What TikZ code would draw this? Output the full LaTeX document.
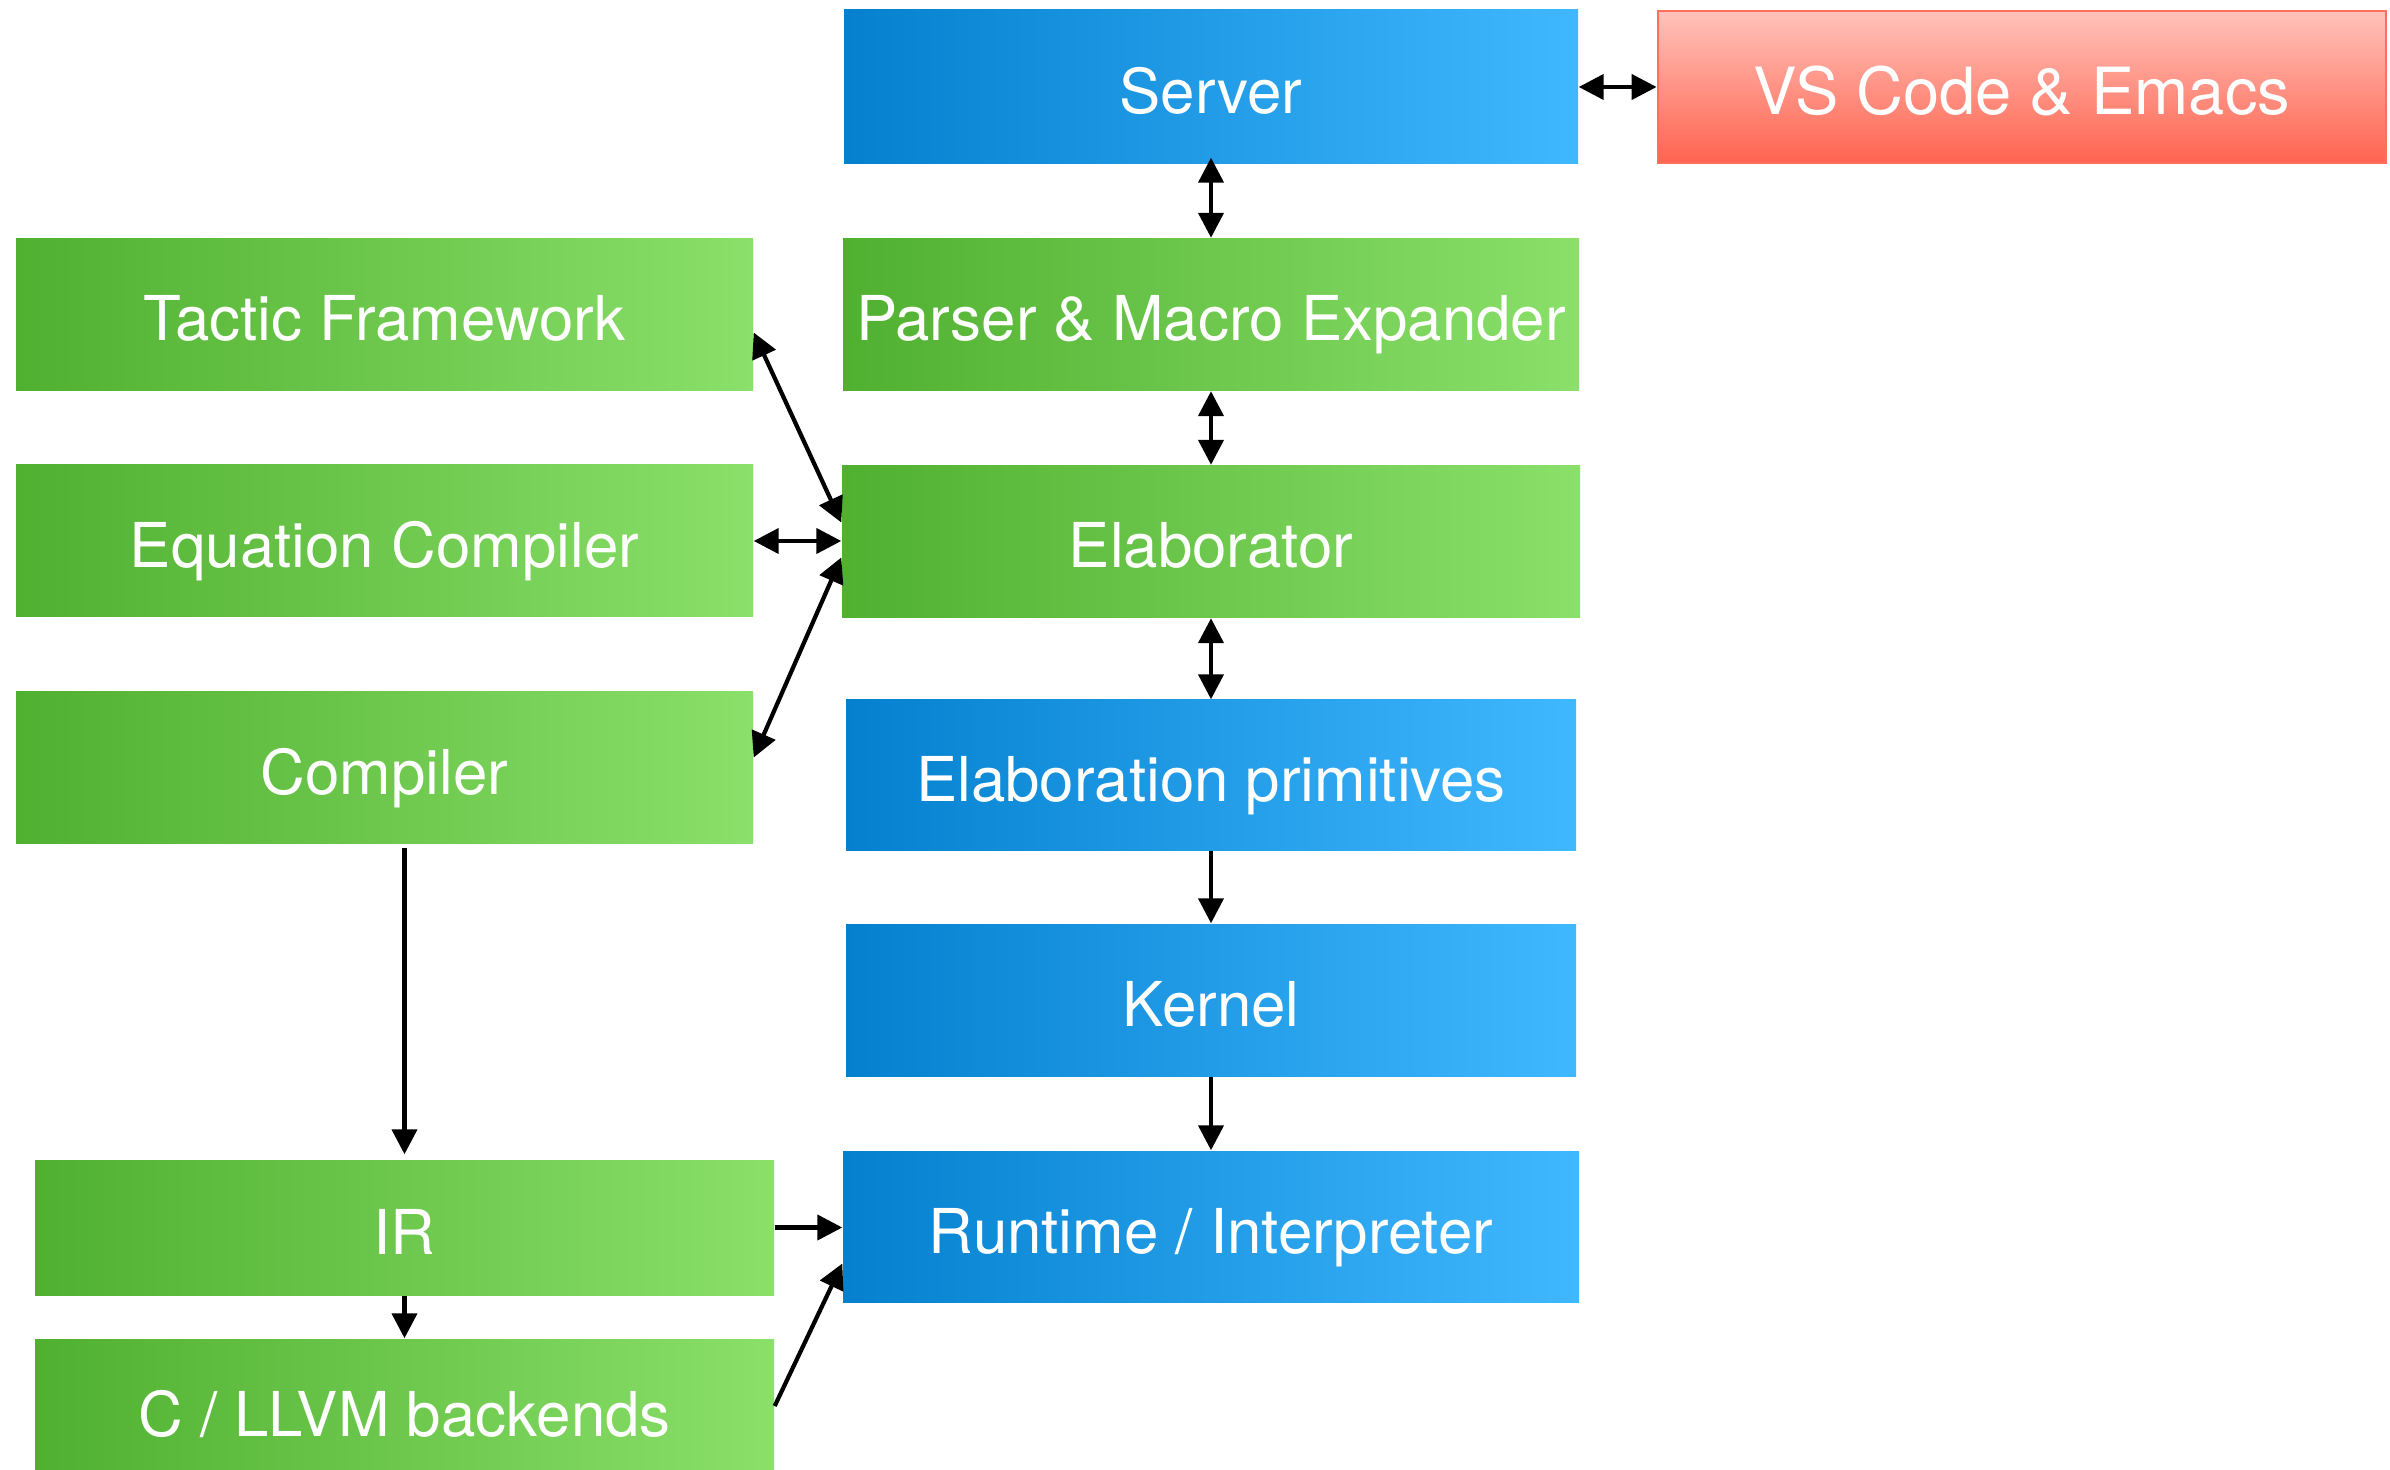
\documentclass[tikz,border=0pt]{standalone}
\usepackage{fontspec}
\setmainfont{TeX Gyre Heros}
\usetikzlibrary{arrows.meta}

\definecolor{grnL}{RGB}{80,176,48}
\definecolor{grnR}{RGB}{138,224,106}
\definecolor{bluL}{RGB}{4,128,206}
\definecolor{bluR}{RGB}{64,184,255}
\definecolor{redT}{RGB}{255,194,186}
\definecolor{redB}{RGB}{255,100,80}
\definecolor{redE}{RGB}{255,112,92}

\tikzset{
  box/.style={inner sep=0pt, text=white, font=\fontsize{17.6}{20}\selectfont,
    text height=0.53cm, text depth=0pt,
    minimum width=7.36cm, minimum height=1.52cm},
  greenbox/.style={box, left color=grnL, right color=grnR},
  bluebox/.style={box, left color=bluL, right color=bluR},
  redbox/.style={box, top color=redT, bottom color=redB, draw=redE, line width=0.8pt,
    font=\fontsize{18.5}{21}\selectfont, text height=0.55cm},
  conn/.style={line width=1.2pt, >={Triangle[length=2.5mm,width=2.5mm]}}
}

\begin{document}
\begin{tikzpicture}
        \useasboundingbox (0,0) rectangle (23.9,-14.7);
        % main column
        \node [bluebox, minimum width=7.34cm, minimum height=1.54cm] (server) at (12.11,-0.87) {Server};
        \node [greenbox] (parser) at (12.11,-3.145) {Parser \& Macro Expander};
        \node [greenbox, minimum width=7.38cm] (elab) at (12.11,-5.415) {Elaborator};
        \node [bluebox, minimum width=7.30cm, minimum height=1.50cm] (prims) at (12.11,-7.75) {Elaboration primitives};
        \node [bluebox, minimum width=7.30cm] (kernel) at (12.11,-10.0) {Kernel};
        \node [bluebox, minimum height=1.51cm] (runtime) at (12.11,-12.265) {Runtime / Interpreter};
        % editors
        \node [redbox, minimum width=7.28cm, minimum height=1.52cm] (editors) at (20.22,-0.87) {VS Code \& Emacs};
        % left column
        \node [greenbox, minimum width=7.37cm] (tactic) at (3.845,-3.145) {Tactic Framework};
        \node [greenbox, minimum width=7.37cm] (eqn) at (3.845,-5.41) {Equation Compiler};
        \node [greenbox, minimum width=7.37cm, minimum height=1.51cm] (comp) at (3.845,-7.675) {Compiler};
        \node [greenbox, minimum width=7.39cm, minimum height=1.35cm] (ir) at (4.045,-12.275) {IR};
        \node [greenbox, minimum width=7.39cm, minimum height=1.42cm] (backend) at (4.045,-14.10) {C / LLVM backends};

        % connectors
        \draw[conn,<->] (server) -- (editors);
        \draw[conn,<->] ([yshift=0.07cm]server.south) -- (parser);
        \draw[conn,<->] (parser) -- (elab);
        \draw[conn,<->] (elab) -- (prims);
        \draw[conn,->] (prims) -- (kernel);
        \draw[conn,->] (kernel) -- (runtime);
        \draw[conn,<->] ([yshift=-0.18cm]tactic.east) -- ([yshift=0.19cm]elab.west);
        \draw[conn,<->] (eqn.east) -- (eqn.east -| elab.west);
        \draw[conn,<->] ([yshift=0.1cm]comp.east) -- ([yshift=-0.16cm]elab.west);
        \draw[conn,->] ([yshift=-0.04cm]comp.south -| ir.north) -- ([yshift=0.05cm]ir.north);
        \draw[conn,->] (ir) -- (backend);
        \draw[conn,->] (ir.east) -- (ir.east -| runtime.west);
        \draw[conn,->] ([yshift=0.04cm]backend.east) -- ([yshift=-0.37cm]runtime.west);
\end{tikzpicture}
\end{document}
